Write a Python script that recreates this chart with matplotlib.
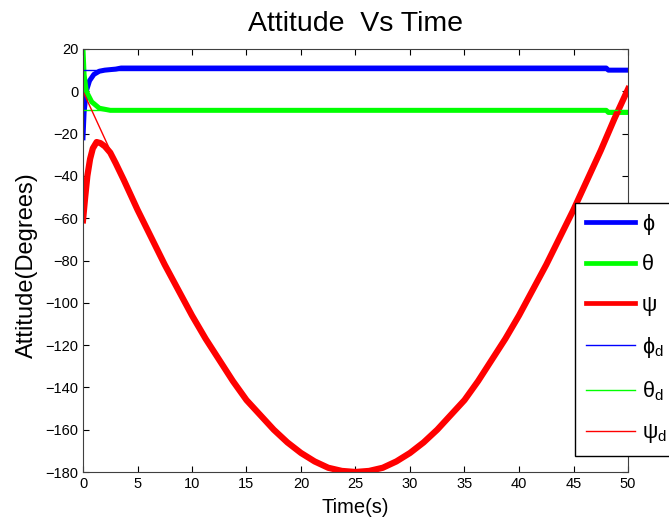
import matplotlib.pyplot as plt

# values
t_d = [0, 1.25, 2.5, 3.75, 5, 6.25, 7.5, 8.75, 10, 11.25, 12.5, 13.75, 15,
       16.25, 17.5, 18.75, 20, 21.25, 22.5, 23.75, 25, 26.25, 27.5, 28.75,
       30, 31.25, 32.5, 33.75, 35, 36.25, 37.5, 38.75, 40, 41.25, 42.5,
       43.75, 45, 46.25, 47.5, 48.75, 50]
psi_d = [0, -14, -28, -42, -56, -69, -82, -94, -106, -117, -127, -137, -146,
         -153, -160, -166, -171, -175, -178, -179.5, -180, -179.5, -178, -175,
         -171, -166, -160, -153, -146, -137, -127, -117, -106, -94, -82,
         -69, -56, -42, -28, -14, 0]

t_psi = [0, 0.2, 0.4, 0.65, 0.9, 1.25, 1.6, 2.0, 2.5, 3.0, 3.75, 5, 6.25,
         7.5, 8.75, 10, 11.25, 12.5, 13.75, 15, 16.25, 17.5, 18.75, 20,
         21.25, 22.5, 23.75, 25, 26.25, 27.5, 28.75, 30, 31.25, 32.5, 33.75,
         35, 36.25, 37.5, 38.75, 40, 41.25, 42.5, 43.75, 45, 46.25, 47.5,
         48.75, 50]
psi = [-61, -50, -40, -32, -27, -24, -24.5, -26, -29, -34, -42, -56, -69,
       -82, -94, -106, -117, -127, -137, -146, -153, -160, -166, -171,
       -175, -178, -179.5, -180, -179.5, -178, -175, -171, -166, -160, -153,
       -146, -137, -127, -117, -106, -94, -82, -69, -56, -42, -28,
       -13, 1]

t_phi = [0, 0.1, 0.3, 0.6, 1.0, 1.5, 2.0, 3.0, 3.5, 48.0, 48.2, 50]
phi = [-22, -10, 0, 5, 8, 9.5, 10, 10.5, 11, 11, 10, 10]

t_theta = [0, 0.1, 0.3, 0.8, 1.5, 2.5, 48.0, 48.2, 50]
theta = [20, 8, 0, -5, -8, -9, -9, -10, -10]

t_ref = [0, 50]
phi_d = [10, 10]
theta_d = [-9, -9]

labels = ['ϕ', 'θ', 'ψ', r'ϕ$_{\mathrm{d}}$', r'θ$_{\mathrm{d}}$', r'ψ$_{\mathrm{d}}$']

plt.rcParams['font.family'] = ['Liberation Sans', 'DejaVu Sans']
plt.rcParams['mathtext.fontset'] = 'custom'
plt.rcParams['mathtext.rm'] = 'Liberation Sans'

fig = plt.figure(figsize=(6.69, 5.26), dpi=100)
ax = fig.add_axes([83 / 669, 54 / 526, 545 / 669, 423 / 526])

ax.plot(t_phi, phi, color='#0000ff', lw=3.6, label=labels[0])
ax.plot(t_theta, theta, color='#00ff00', lw=3.6, label=labels[1])
ax.plot(t_psi, psi, color='#ff0000', lw=4.5, label=labels[2])
ax.plot(t_ref, phi_d, color='#0000ff', lw=1.0, label=labels[3])
ax.plot(t_ref, theta_d, color='#00ff00', lw=1.0, label=labels[4])
ax.plot(t_d, psi_d, color='#ff0000', lw=1.0, label=labels[5])

ax.set_xlim(0, 50)
ax.set_ylim(-180, 20)
ax.set_xticks(range(0, 51, 5))
ax.set_yticks(range(-180, 21, 20))
ax.tick_params(direction='in', top=True, right=True, labelsize=10.5, length=4)
for s in ax.spines.values():
    s.set_color('#404040')

ax.set_title('Attitude  Vs Time', fontsize=20.5, pad=13)
ax.set_xlabel('Time(s)', fontsize=14.5)
ax.set_ylabel('Attitude(Degrees)', fontsize=17)
ax.xaxis.set_label_coords(0.5, -(498 - 472) / 423)
ax.yaxis.set_label_coords((38 - 83) / 545, 0.49)

leg = fig.legend(loc='upper left', bbox_to_anchor=(575 / 669, 1 - 203 / 526),
                 fontsize=15.5, frameon=True, fancybox=False, framealpha=1,
                 edgecolor='black', handlelength=2.3, handletextpad=0.3,
                 labelspacing=0.9, borderpad=0.5, borderaxespad=0)
leg.get_frame().set_linewidth(1.0)
for h in leg.get_lines()[:3]:
    h.set_linewidth(3.4)

fig.savefig('out.png', dpi=100)
